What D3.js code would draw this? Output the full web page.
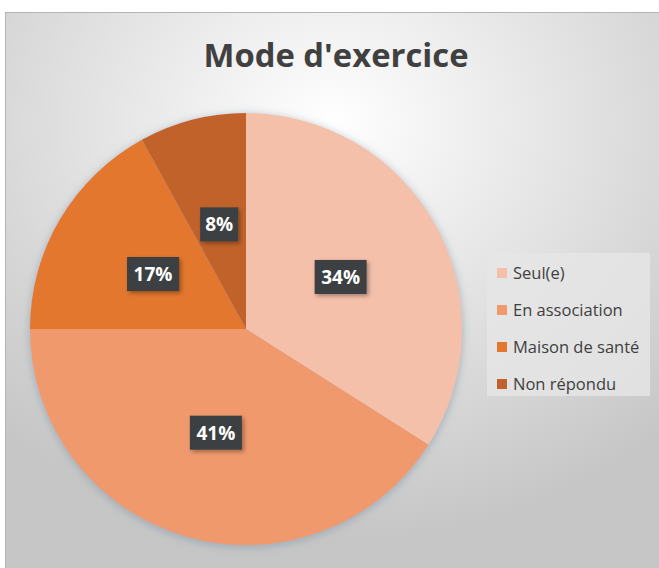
<!DOCTYPE html>
<html>
<head>
<meta charset="utf-8">
<script src="https://cdn.jsdelivr.net/npm/d3@7"></script>
<style>
  body { margin: 0; background: #fff; }
  svg { display: block; }
</style>
</head>
<body>
<svg width="659" height="568"></svg>
<script>
var categories = ["Seul(e)", "En association", "Maison de santé", "Non répondu"];
var values = [34, 41, 17, 8];
var colors = ["#F5C0AA", "#F0996D", "#E3772F", "#C1622A"];
var title = "Mode d'exercice";

var svg = d3.select("svg");
var width = 659, height = 568;

var defs = svg.append("defs");
var bg = defs.append("radialGradient").attr("id", "bg")
  .attr("cx", "50%").attr("cy", "20%").attr("r", "75%");
bg.append("stop").attr("offset", "0%").attr("stop-color", "#ffffff");
bg.append("stop").attr("offset", "100%").attr("stop-color", "#c6c6c6");

var shadow = defs.append("filter").attr("id", "shadow")
  .attr("x", "-20%").attr("y", "-20%").attr("width", "140%").attr("height", "140%");
shadow.append("feDropShadow").attr("dx", 0).attr("dy", 2)
  .attr("stdDeviation", 5).attr("flood-color", "#8a9aa8").attr("flood-opacity", 0.7);

var lblShadow = defs.append("filter").attr("id", "lblshadow")
  .attr("x", "-30%").attr("y", "-30%").attr("width", "160%").attr("height", "160%");
lblShadow.append("feDropShadow").attr("dx", 2).attr("dy", 2)
  .attr("stdDeviation", 2).attr("flood-color", "#000").attr("flood-opacity", 0.35);

// chart area
svg.append("rect")
  .attr("x", 5.5).attr("y", 12.5)
  .attr("width", width - 5).attr("height", height - 12)
  .attr("fill", "url(#bg)")
  .attr("stroke", "#b4b4b4");

svg.append("text")
  .attr("x", 336).attr("y", 67)
  .attr("text-anchor", "middle")
  .attr("font-family", "'Open Sans', sans-serif")
  .attr("font-weight", "bold")
  .attr("font-size", 32)
  .attr("textLength", 265)
  .attr("lengthAdjust", "spacingAndGlyphs")
  .attr("fill", "#404040")
  .text(title);

var cx = 246, cy = 329, radius = 216;

var pie = d3.pie().sort(null).value(function(d) { return d; });
var arcs = pie(values);
var arc = d3.arc().innerRadius(0).outerRadius(radius);
var labelArc = d3.arc().innerRadius(radius * 0.5).outerRadius(radius * 0.5);

var g = svg.append("g").attr("transform", "translate(" + cx + "," + cy + ")");

g.append("g").attr("filter", "url(#shadow)")
  .selectAll("path")
  .data(arcs)
  .enter().append("path")
  .attr("d", arc)
  .attr("fill", function(d, i) { return colors[i]; });

var labels = g.selectAll("g.lbl")
  .data(arcs)
  .enter().append("g")
  .attr("class", "lbl")
  .attr("transform", function(d) { return "translate(" + labelArc.centroid(d) + ")"; });

labels.each(function(d) {
  var s = d3.select(this);
  var txt = d.data + "%";
  var w = txt.length === 2 ? 38 : 52;
  s.append("rect")
    .attr("x", -w / 2).attr("y", -17)
    .attr("width", w).attr("height", 34)
    .attr("fill", "#3d3f42")
    .attr("filter", "url(#lblshadow)");
  s.append("text")
    .attr("text-anchor", "middle")
    .attr("dy", "0.36em")
    .attr("font-family", "'Open Sans', sans-serif")
    .attr("font-weight", "bold")
    .attr("font-size", 19)
    .attr("fill", "#fff")
    .text(txt);
});

// legend
var leg = svg.append("g").attr("transform", "translate(487,253)");
leg.append("rect")
  .attr("width", 163).attr("height", 143)
  .attr("fill", "#e6e6e6").attr("opacity", 0.8);

var ly = d3.scalePoint().domain(categories).range([20, 131]);

var items = leg.selectAll("g.item")
  .data(categories)
  .enter().append("g")
  .attr("class", "item")
  .attr("transform", function(d) { return "translate(10," + ly(d) + ")"; });

items.append("rect")
  .attr("x", 0).attr("y", -5)
  .attr("width", 10).attr("height", 10)
  .attr("fill", function(d, i) { return colors[i]; });

items.append("text")
  .attr("x", 16).attr("dy", "0.35em")
  .attr("font-family", "'Open Sans', sans-serif")
  .attr("font-size", 16.5)
  .attr("fill", "#404040")
  .text(function(d) { return d; });
</script>
</body>
</html>
